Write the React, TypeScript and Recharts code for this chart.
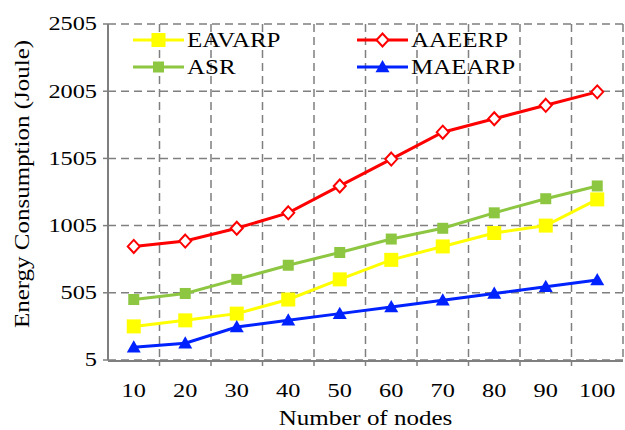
import React from 'react';
import { LineChart, Line, XAxis, YAxis, CartesianGrid, Legend } from 'recharts';

const nodes = [10, 20, 30, 40, 50, 60, 70, 80, 90, 100];
const eavarp = [255, 300, 350, 455, 605, 750, 850, 950, 1005, 1200];
const asr = [455, 500, 605, 710, 805, 905, 985, 1100, 1205, 1300];
const aaeerp = [850, 890, 985, 1100, 1300, 1500, 1700, 1800, 1900, 2000];
const maearp = [100, 130, 250, 300, 350, 400, 450, 500, 550, 600];
const yTicks = [5, 505, 1005, 1505, 2005, 2505];
const bandEdges = [15, 25, 35, 45, 55, 65, 75, 85, 95];

const data = nodes.map((n, i) => ({
  n,
  EAVARP: eavarp[i],
  ASR: asr[i],
  AAEERP: aaeerp[i],
  MAEARP: maearp[i],
}));

const FONT = '"Liberation Serif", "Times New Roman", serif';
const GRAY = '#7f7f7f';

const COLORS: Record<string, string> = {
  EAVARP: '#FFFF00',
  ASR: '#8DC641',
  AAEERP: '#FF0000',
  MAEARP: '#0022FF',
};

function Marker({ kind, cx, cy, color }: { kind: string; cx: number; cy: number; color: string }) {
  if (kind === 'EAVARP') {
    const s = 14;
    return <rect x={cx - s / 2} y={cy - s / 2} width={s} height={s} fill={color} />;
  }
  if (kind === 'ASR') {
    const s = 11;
    return <rect x={cx - s / 2} y={cy - s / 2} width={s} height={s} fill={color} />;
  }
  if (kind === 'AAEERP') {
    const w = 6, h = 6.5;
    return (
      <polygon
        points={`${cx},${cy - h} ${cx + w},${cy} ${cx},${cy + h} ${cx - w},${cy}`}
        fill="#fff"
        stroke={color}
        strokeWidth={2}
      />
    );
  }
  const w = 7, h = 7;
  return (
    <polygon points={`${cx},${cy - h} ${cx + w},${cy + h * 0.75} ${cx - w},${cy + h * 0.75}`} fill={color} />
  );
}

const makeDot = (kind: string) => (p: any) => (
  <Marker key={`${kind}-${p.index}`} kind={kind} cx={p.cx} cy={p.cy} color={COLORS[kind]} />
);

const YTick = (p: any) => (
  <g transform={`translate(${p.x},${p.y})`}>
    <text transform="scale(1.28,1)" textAnchor="end" dy="0.34em" fontFamily={FONT} fontSize={19} fill="#000">
      {p.payload.value}
    </text>
  </g>
);

const XTick = (p: any) => (
  <g transform={`translate(${p.x},${p.y})`}>
    <text transform="scale(1.28,1)" textAnchor="middle" dy="0.71em" fontFamily={FONT} fontSize={19} fill="#000">
      {p.payload.value}
    </text>
  </g>
);

const EmptyTick = () => <g />;

const YLabel = (p: any) => {
  const vb = p.viewBox;
  const cx = vb.x + 22;
  const cy = vb.y + vb.height / 2 - 8;
  return (
    <g transform={`translate(${cx},${cy}) rotate(-90)`}>
      <text transform="scale(1.25,1)" textAnchor="middle" dy="0.34em" fontFamily={FONT} fontSize={20} fill="#000">
        Energy Consumption (Joule)
      </text>
    </g>
  );
};

const XLabel = (p: any) => {
  const vb = p.viewBox;
  const cx = vb.x + vb.width / 2;
  const cy = 418;
  return (
    <g transform={`translate(${cx},${cy})`}>
      <text transform="scale(1.25,1)" textAnchor="middle" dy="0.34em" fontFamily={FONT} fontSize={20} fill="#000">
        Number of nodes
      </text>
    </g>
  );
};

const order = ['EAVARP', 'ASR', 'AAEERP', 'MAEARP'];

const LegendContent = () => (
  <svg width={380} height={62} style={{ display: 'block', overflow: 'visible' }}>
    {order.map((name, i) => {
      const col = Math.floor(i / 2);
      const row = i % 2;
      const x0 = col === 0 ? 3 : 227;
      const y = row === 0 ? 18 : 45;
      const color = COLORS[name];
      return (
        <g key={name}>
          <line x1={x0} x2={x0 + 51} y1={y} y2={y} stroke={color} strokeWidth={3} />
          <Marker kind={name} cx={x0 + 25.5} cy={y} color={color} />
          <g transform={`translate(${x0 + 54},${y})`}>
            <text transform="scale(1.19,1)" dy="0.35em" fontFamily={FONT} fontSize={21} fill="#000">
              {name}
            </text>
          </g>
        </g>
      );
    })}
  </svg>
);

export default function App() {
  return (
    <div style={{ position: 'absolute', left: 0, top: 0, width: 625, height: 430, background: '#fff' }}>
      <LineChart width={625} height={430} data={data} margin={{ top: 24, right: 2, left: 0, bottom: 0 }}>
        <CartesianGrid xAxisId={0} stroke={GRAY} strokeWidth={1.5} strokeDasharray="8 5" />
        <XAxis
          xAxisId={0}
          dataKey="n"
          type="number"
          domain={[5, 105]}
          ticks={bandEdges}
          height={1}
          tick={EmptyTick}
          axisLine={false}
          tickLine={{ stroke: GRAY, strokeWidth: 1.5 }}
          tickSize={6}
          interval={0}
        />
        <XAxis
          xAxisId="m"
          dataKey="n"
          type="number"
          domain={[5, 105]}
          ticks={nodes}
          height={69}
          axisLine={{ stroke: GRAY, strokeWidth: 2 }}
          tickLine={false}
          tickSize={0}
          tickMargin={23}
          tick={<XTick />}
          interval={0}
          label={{ content: <XLabel /> } as any}
        />
        <YAxis
          type="number"
          domain={[5, 2505]}
          ticks={yTicks}
          width={108}
          axisLine={{ stroke: GRAY, strokeWidth: 2 }}
          tickLine={{ stroke: GRAY, strokeWidth: 1.5 }}
          tickSize={5}
          tickMargin={6}
          tick={<YTick />}
          label={{ content: <YLabel /> } as any}
          interval={0}
        />
        <Legend
          verticalAlign="middle"
          align="center"
          layout="horizontal"
          content={<LegendContent />}
          wrapperStyle={{ top: 22, left: 130, width: 380, height: 62 }}
        />
        <Line xAxisId="m" dataKey="EAVARP" name="EAVARP" stroke={COLORS.EAVARP} strokeWidth={3} dot={makeDot('EAVARP')} isAnimationActive={false} />
        <Line xAxisId="m" dataKey="ASR" name="ASR" stroke={COLORS.ASR} strokeWidth={3} dot={makeDot('ASR')} isAnimationActive={false} />
        <Line xAxisId="m" dataKey="AAEERP" name="AAEERP" stroke={COLORS.AAEERP} strokeWidth={3} dot={makeDot('AAEERP')} isAnimationActive={false} />
        <Line xAxisId="m" dataKey="MAEARP" name="MAEARP" stroke={COLORS.MAEARP} strokeWidth={3} dot={makeDot('MAEARP')} isAnimationActive={false} />
      </LineChart>
    </div>
  );
}
